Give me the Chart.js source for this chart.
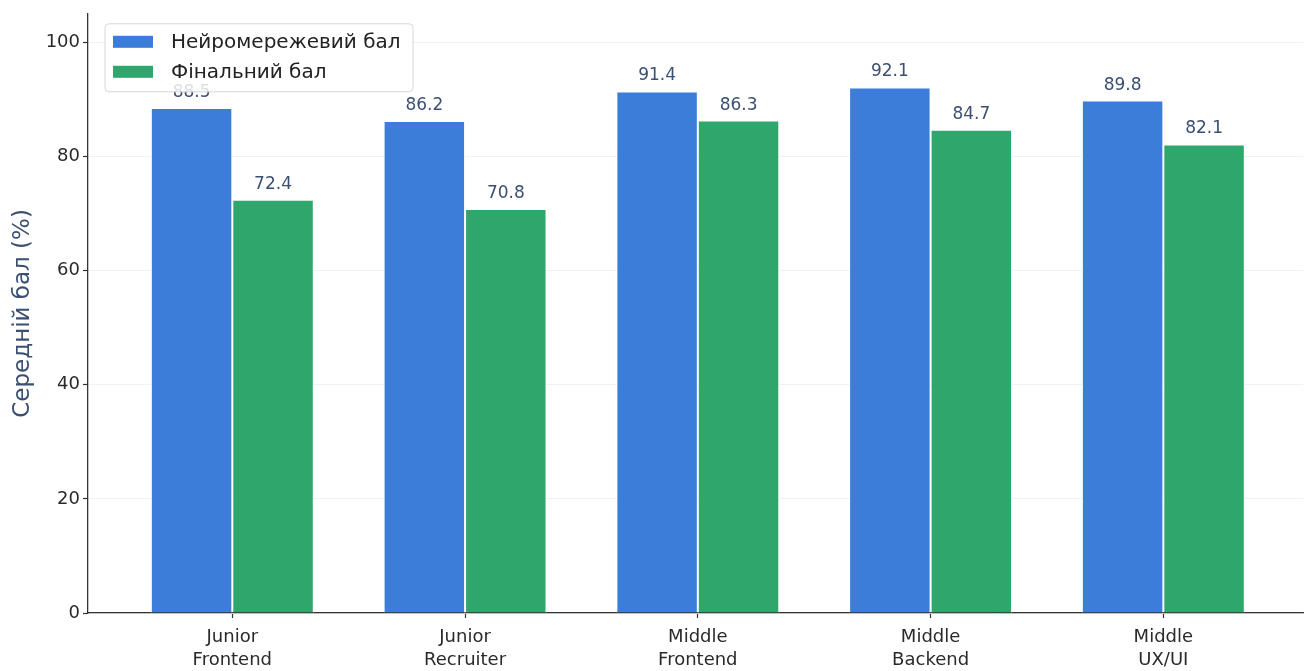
<!DOCTYPE html>
<html><head><meta charset="utf-8">
<script src="https://cdn.jsdelivr.net/npm/chart.js@4/dist/chart.umd.min.js"></script>
<style>html,body{margin:0;padding:0;background:#fff}#wrap{width:1309px;height:671px;position:relative}</style>
</head><body><div id="wrap"><canvas id="c"></canvas></div>
<script>
const categories = [["Junior","Frontend"],["Junior","Recruiter"],["Middle","Frontend"],["Middle","Backend"],["Middle","UX/UI"]];
const neuralScores = [88.5, 86.2, 91.4, 92.1, 89.8];
const finalScores = [72.4, 70.8, 86.3, 84.7, 82.1];
const seriesNames = ["Нейромережевий бал", "Фінальний бал"];
const yTicks = [0, 20, 40, 60, 80, 100];
const yTitle = "Середній бал (%)";

const FONT = "'DejaVu Sans', sans-serif";
const BLUE = "#3b7dd8";
const GREEN = "#2fa66c";
const LABEL_COLOR = "#3b4f72";

const valueLabels = {
  id: 'valueLabels',
  afterDatasetsDraw(chart) {
    const ctx = chart.ctx;
    ctx.save();
    ctx.font = "17px " + FONT;
    ctx.fillStyle = LABEL_COLOR;
    ctx.textAlign = 'center';
    ctx.textBaseline = 'alphabetic';
    chart.data.datasets.forEach((ds, di) => {
      chart.getDatasetMeta(di).data.forEach((bar, i) => {
        ctx.fillText(ds.data[i].y.toFixed(1), bar.x, bar.y - 11);
      });
    });
    ctx.restore();
  }
};

const innerLegend = {
  id: 'innerLegend',
  afterDraw(chart) {
    const ctx = chart.ctx, ca = chart.chartArea;
    const x0 = ca.left + 17, y0 = ca.top + 10, w = 308, h = 68;
    ctx.save();
    ctx.beginPath();
    ctx.roundRect(x0, y0, w, h, 4);
    ctx.fillStyle = 'rgba(255,255,255,0.82)';
    ctx.fill();
    ctx.strokeStyle = '#d6d6d6';
    ctx.lineWidth = 1;
    ctx.stroke();
    ctx.font = "20px " + FONT;
    ctx.textBaseline = 'middle';
    ctx.textAlign = 'left';
    chart.data.datasets.forEach((ds, i) => {
      const cy = y0 + 18 + i * 30;
      ctx.fillStyle = ds.backgroundColor;
      ctx.fillRect(x0 + 8, cy - 6, 40, 12);
      ctx.fillStyle = '#222';
      ctx.fillText(ds.label, x0 + 66, cy + 1);
    });
    ctx.restore();
  }
};

new Chart(document.getElementById('c'), {
  type: 'bar',
  data: {
    datasets: [
      { label: seriesNames[0], data: neuralScores.map((v, i) => ({ x: i, y: v })), backgroundColor: BLUE, borderColor: 'rgba(255,255,255,0.85)', borderWidth: 1, categoryPercentage: 0.7, barPercentage: 1.0 },
      { label: seriesNames[1], data: finalScores.map((v, i) => ({ x: i, y: v })), backgroundColor: GREEN, borderColor: 'rgba(255,255,255,0.85)', borderWidth: 1, categoryPercentage: 0.7, barPercentage: 1.0 }
    ]
  },
  options: {
    responsive: true,
    maintainAspectRatio: false,
    animation: false,
    layout: { padding: { top: 12, right: 6, left: 0, bottom: 0 } },
    plugins: { legend: { display: false }, tooltip: { enabled: false } },
    scales: {
      x: {
        type: 'linear', min: -0.62, max: 4.6, offset: false,
        grid: { offset: false, drawOnChartArea: false, drawTicks: true, tickLength: 5, tickColor: '#333', tickWidth: 1.2 },
        border: { color: '#333', width: 1.3 },
        afterBuildTicks: s => { s.ticks = categories.map((c, i) => ({ value: i })); },
        ticks: { callback: v => categories[v], font: { family: FONT, size: 18, lineHeight: 1.27 }, color: '#2a2a2a', padding: 8, maxRotation: 0, autoSkip: false },
        afterFit: s => { s.height = 58; }
      },
      y: {
        min: 0, max: 105,
        afterBuildTicks: s => { s.ticks = yTicks.map(v => ({ value: v })); },
        grid: { color: '#f1f1f1', lineWidth: 1, tickColor: '#333', tickLength: 5, tickWidth: 1.2 },
        border: { color: '#333', width: 1.3 },
        ticks: { font: { family: FONT, size: 18 }, color: '#2a2a2a', padding: 3 },
        title: { display: true, text: yTitle, color: LABEL_COLOR, font: { family: FONT, size: 23 }, padding: { top: 9, bottom: 0 } },
        afterFit: s => { s.width = 88; }
      }
    }
  },
  plugins: [valueLabels, innerLegend]
});
</script>
</body></html>
